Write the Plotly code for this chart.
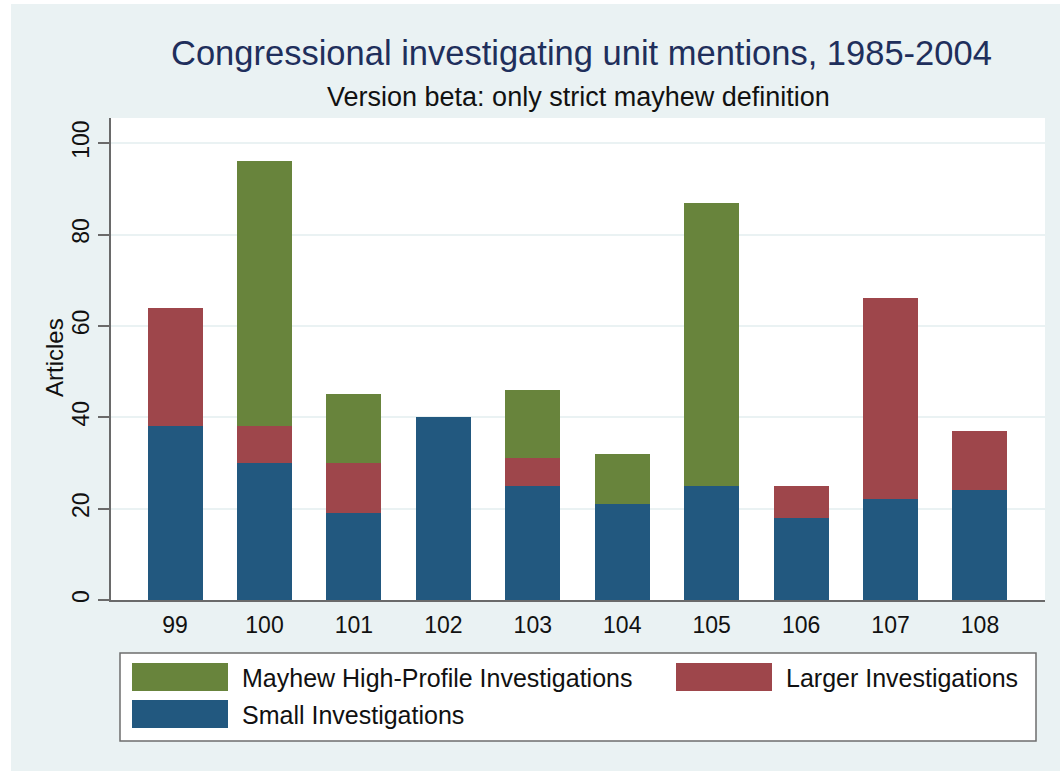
import plotly.graph_objects as go

# ---- data ----
congress = ["99", "100", "101", "102", "103", "104", "105", "106", "107", "108"]
small_inv = [38, 30, 19, 40, 25, 21, 25, 18, 22, 24]
larger_inv = [26, 8, 11, 0, 6, 0, 0, 7, 44, 13]
mayhew_inv = [0, 58, 15, 0, 15, 11, 62, 0, 0, 0]
series_names = ["Mayhew High-Profile Investigations", "Larger Investigations", "Small Investigations"]
y_ticks = [0, 20, 40, 60, 80, 100]

title_text = "Congressional investigating unit mentions, 1985-2004"
subtitle_text = "Version beta: only strict mayhew definition"
ytitle_text = "Articles"

# ---- style ----
C_GREEN = "#68843c"
C_RED = "#9e464b"
C_BLUE = "#22587f"
BG = "#eaf2f3"
FONT = "Liberation Sans"

W, H = 1060, 771
L, R, T, B = 111, 1045, 118, 600  # plot area in px
PW, PH = R - L, B - T


def px_x(x):
    return (x - L) / PW


def px_y(y):
    return (B - y) / PH


fig = go.Figure()
fig.add_trace(go.Bar(x=congress, y=small_inv, name=series_names[2], marker_color=C_BLUE,
                     marker_line_width=0, width=0.615))
fig.add_trace(go.Bar(x=congress, y=larger_inv, name=series_names[1], marker_color=C_RED,
                     marker_line_width=0, width=0.615))
fig.add_trace(go.Bar(x=congress, y=mayhew_inv, name=series_names[0], marker_color=C_GREEN,
                     marker_line_width=0, width=0.615))

shapes = [
    # graph background panel
    dict(type="rect", xref="paper", yref="paper", x0=px_x(11), x1=px_x(1060), y0=px_y(771), y1=px_y(4),
         fillcolor=BG, line_width=0, layer="below"),
    # plot area
    dict(type="rect", xref="paper", yref="paper", x0=0, x1=1, y0=0, y1=1,
         fillcolor="white", line_width=0, layer="below"),
    # legend box
    dict(type="rect", xref="paper", yref="paper", x0=px_x(120), x1=px_x(1036), y0=px_y(741), y1=px_y(653),
         fillcolor="white", line=dict(color="#6e6e6e", width=1.5), layer="above"),
]

annotations = [
    dict(text=title_text, x=px_x(581), y=px_y(53), xref="paper", yref="paper", showarrow=False,
         xanchor="center", yanchor="middle", font=dict(family=FONT, size=34.5, color="#1f2f5c")),
    dict(text=subtitle_text, x=px_x(578), y=px_y(97), xref="paper", yref="paper", showarrow=False,
         xanchor="center", yanchor="middle", font=dict(family=FONT, size=27, color="#111111")),
    dict(text=ytitle_text, x=px_x(54), y=px_y(358), xref="paper", yref="paper", showarrow=False,
         textangle=-90, xanchor="center", yanchor="middle", font=dict(family=FONT, size=24, color="#111111")),
]

# custom legend (large swatches like the original)
legend_items = [
    (series_names[0], C_GREEN, 132, 663),
    (series_names[1], C_RED, 676, 663),
    (series_names[2], C_BLUE, 132, 700),
]
for name, col, lx, ly in legend_items:
    shapes.append(dict(type="rect", xref="paper", yref="paper",
                       x0=px_x(lx), x1=px_x(lx + 96), y0=px_y(ly + 28), y1=px_y(ly),
                       fillcolor=col, line_width=0, layer="above"))
    annotations.append(dict(text=name, x=px_x(lx + 108), y=px_y(ly + 15), xref="paper", yref="paper",
                            showarrow=False, xanchor="left", yanchor="middle",
                            font=dict(family=FONT, size=25, color="#111111")))

fig.update_layout(
    width=W, height=H,
    margin=dict(l=L, r=W - R, t=T, b=H - B, pad=0),
    paper_bgcolor="white",
    plot_bgcolor="white",
    barmode="stack",
    bargap=0.385,
    showlegend=False,
    shapes=shapes,
    annotations=annotations,
    font=dict(family=FONT, size=23, color="#111111"),
)
fig.update_xaxes(
    type="category", range=[-0.716, 9.727],
    showline=True, linecolor="#6a6a6a", linewidth=2,
    ticks="", showgrid=False, zeroline=False,
    tickfont=dict(family=FONT, size=23, color="#111111"),
    ticklabelstandoff=3,
)
fig.update_yaxes(
    range=[0, 105.5], tickvals=y_ticks,
    showline=True, linecolor="#6a6a6a", linewidth=2,
    ticks="outside", ticklen=11, tickwidth=1.5, tickcolor="#6a6a6a",
    tickangle=-90,
    showgrid=True, gridcolor="#eaf2f3", gridwidth=2, zeroline=False,
    tickfont=dict(family=FONT, size=23, color="#111111"),
    ticklabelstandoff=0,
)

fig.write_html("out.html", config={"displayModeBar": False},
               post_script="document.body.style.margin='0';document.body.style.overflow='hidden';")
